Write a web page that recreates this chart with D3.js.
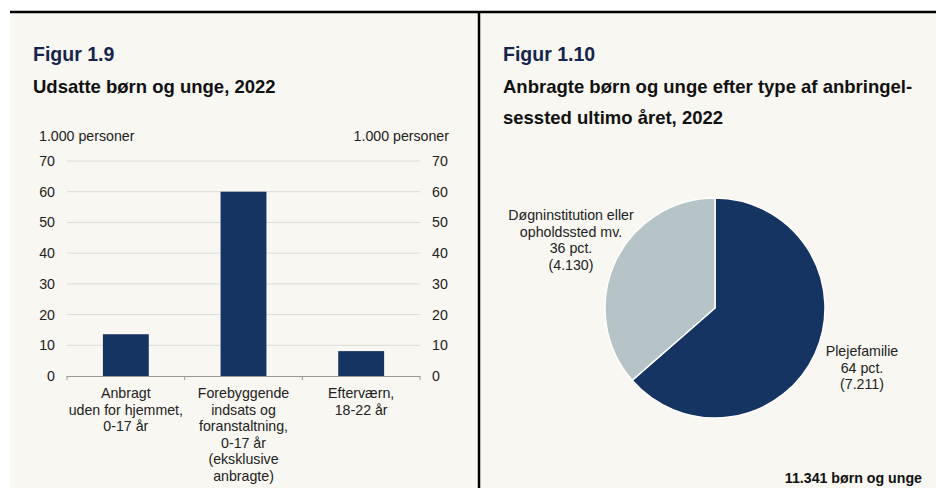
<!DOCTYPE html>
<html>
<head>
<meta charset="utf-8">
<script src="https://cdn.jsdelivr.net/npm/d3@7"></script>
<style>
  body { margin: 0; background: #fff; }
  svg { display: block; font-family: "Liberation Sans", Arial, sans-serif; }
</style>
</head>
<body>
<div id="chart"></div>
<script>
// Data
const kategorier = [
  ["Anbragt", "uden for hjemmet,", "0-17 år"],
  ["Forebyggende", "indsats og", "foranstaltning,", "0-17 år", "(eksklusive", "anbragte)"],
  ["Efterværn,", "18-22 år"]
];
const vaerdier = [13.6, 60, 8.1];
const yTicks = [0, 10, 20, 30, 40, 50, 60, 70];

const pieNavne = [
  ["Plejefamilie", "64 pct.", "(7.211)"],
  ["Døgninstitution eller", "opholdssted mv.", "36 pct.", "(4.130)"]
];
const pieVaerdier = [7211, 4130];

const width = 936, height = 488;
const navy = "#163461";
const bg = "#f8f7f1";
const fs = 14.2;

const svg = d3.select("#chart").append("svg")
  .attr("width", width).attr("height", height);

// Baggrund og rammer
svg.append("rect").attr("x", 10).attr("y", 12).attr("width", width - 10).attr("height", height - 12).attr("fill", bg);
svg.append("line").attr("x1", 10).attr("x2", width).attr("y1", 12).attr("y2", 12)
  .attr("stroke", "#000").attr("stroke-width", 2.5);
svg.append("line").attr("x1", 479).attr("x2", 479).attr("y1", 12).attr("y2", height)
  .attr("stroke", "#000").attr("stroke-width", 2.5);

// Titler
function titel(x, fig, linjer) {
  svg.append("text").attr("x", x).attr("y", 61).text(fig)
    .attr("font-weight", "bold").attr("font-size", 19.5).attr("fill", "#15254d");
  linjer.forEach((l, i) => {
    svg.append("text").attr("x", x).attr("y", 93 + i * 30.5).text(l)
      .attr("font-weight", "bold").attr("font-size", 18.5).attr("fill", "#111");
  });
}
titel(33, "Figur 1.9", ["Udsatte børn og unge, 2022"]);
titel(503, "Figur 1.10", ["Anbragte børn og unge efter type af anbringel-", "sessted ultimo året, 2022"]);

// Søjlediagram
const plotLeft = 67, plotRight = 420, plotTop = 161, plotBottom = 376;
const x = d3.scaleBand().domain(d3.range(kategorier.length)).range([plotLeft, plotRight]).paddingInner(0.61).paddingOuter(0.305);
const y = d3.scaleLinear().domain([0, 70]).range([plotBottom, plotTop]);

const g = svg.append("g").attr("font-size", fs).attr("fill", "#222");

g.selectAll(".grid").data(yTicks.slice(1)).enter().append("line")
  .attr("x1", plotLeft).attr("x2", plotRight)
  .attr("y1", d => y(d)).attr("y2", d => y(d))
  .attr("stroke", "#dcdcd8").attr("stroke-width", 1);

g.selectAll(".bar").data(vaerdier).enter().append("rect")
  .attr("x", (d, i) => x(i)).attr("width", x.bandwidth())
  .attr("y", d => y(d)).attr("height", d => y(0) - y(d))
  .attr("fill", navy);

// x-akse
g.append("line").attr("x1", plotLeft).attr("x2", plotRight).attr("y1", plotBottom + 0.5).attr("y2", plotBottom + 0.5)
  .attr("stroke", "#999");
const step = x.step();
d3.range(kategorier.length + 1).forEach(i => {
  const xx = plotLeft + i * step;
  g.append("line").attr("x1", xx).attr("x2", xx).attr("y1", plotBottom).attr("y2", plotBottom + 4).attr("stroke", "#999");
});

// y-akser (venstre og højre)
const yLeft = svg.append("g").attr("transform", `translate(${plotLeft - 12},0)`)
  .call(d3.axisLeft(y).tickValues(yTicks).tickSize(0).tickPadding(0));
const yRight = svg.append("g").attr("transform", `translate(${plotRight + 12},0)`)
  .call(d3.axisRight(y).tickValues(yTicks).tickSize(0).tickPadding(0));
[yLeft, yRight].forEach(a => {
  a.select(".domain").remove();
  a.selectAll("text").attr("font-size", fs).attr("fill", "#222").attr("font-family", "Liberation Sans, Arial, sans-serif");
});

svg.append("text").attr("x", 39).attr("y", 141).text("1.000 personer").attr("font-size", fs).attr("fill", "#222");
svg.append("text").attr("x", 449).attr("y", 141).attr("text-anchor", "end").text("1.000 personer").attr("font-size", fs).attr("fill", "#222");

// Kategorietiketter
kategorier.forEach((linjer, i) => {
  const t = g.append("text").attr("text-anchor", "middle")
    .attr("x", x(i) + x.bandwidth() / 2).attr("y", 398);
  linjer.forEach((l, j) => {
    t.append("tspan").attr("x", x(i) + x.bandwidth() / 2).attr("dy", j === 0 ? 0 : 16.5).text(l);
  });
});

// Cirkeldiagram
const cx = 715, cy = 308, r = 110;
const pie = d3.pie().sort(null).value(d => d);
const arc = d3.arc().innerRadius(0).outerRadius(r);
const pg = svg.append("g").attr("transform", `translate(${cx},${cy})`);
pg.selectAll("path").data(pie(pieVaerdier)).enter().append("path")
  .attr("d", arc)
  .attr("fill", (d, i) => i === 0 ? navy : "#b6c3c7")
  .attr("stroke", "#fff").attr("stroke-width", 1.5);

const labelPos = [[862, 356], [571, 220]];
pieNavne.forEach((linjer, i) => {
  const t = svg.append("text").attr("text-anchor", "middle").attr("font-size", fs).attr("fill", "#222")
    .attr("x", labelPos[i][0]).attr("y", labelPos[i][1]);
  linjer.forEach((l, j) => {
    t.append("tspan").attr("x", labelPos[i][0]).attr("dy", j === 0 ? 0 : 16.7).text(l);
  });
});

svg.append("text").attr("x", 922).attr("y", 483).attr("text-anchor", "end")
  .attr("font-weight", "bold").attr("font-size", fs).attr("fill", "#111")
  .text("11.341 børn og unge");
</script>
</body>
</html>
